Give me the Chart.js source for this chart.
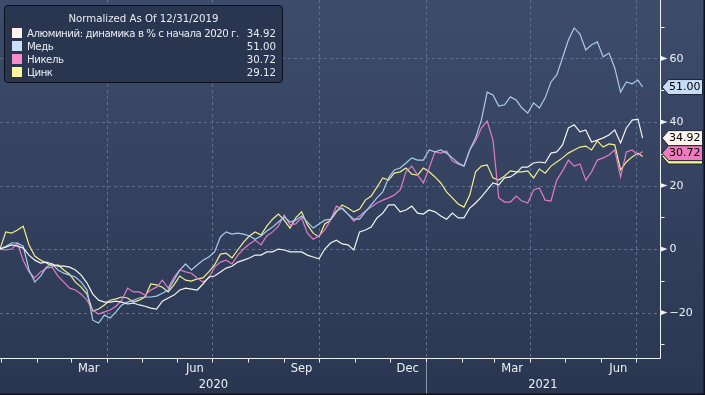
<!DOCTYPE html>
<html>
<head>
<meta charset="utf-8">
<script src="https://cdn.jsdelivr.net/npm/chart.js@4.4.0/dist/chart.umd.min.js"></script>
<style>
html,body{margin:0;padding:0;background:#2c3954;}
#wrap{position:relative;width:705px;height:395px;overflow:hidden;}
#c{position:absolute;left:0;top:0;}
#legend{position:absolute;left:4px;top:5px;width:277px;height:76px;border:1px solid #0c1019;border-radius:4px;background:rgba(41,53,79,0.95);color:#e9ecf2;font-family:"DejaVu Sans",sans-serif;font-size:10.2px;}
#legend .title{position:absolute;left:0;right:0;top:6px;text-align:center;line-height:13px;}
#legend .row{position:absolute;left:7px;right:6px;height:13px;line-height:13px;}
#legend .sw{position:absolute;left:0;top:1px;width:10px;height:10px;}
#legend .nm{position:absolute;left:15px;top:0;white-space:nowrap;letter-spacing:-0.45px;}
#legend .vl{position:absolute;right:0;top:0;}
</style>
</head>
<body>
<div id="wrap">
<canvas id="c" width="705" height="395"></canvas>
<div id="legend"></div>
</div>
<script>
// ---- data ----
const legendTitle = 'Normalized As Of 12/31/2019';
const seriesNames = ['Алюминий: динамика в % с начала 2020 г.', 'Медь', 'Никель', 'Цинк'];
const baseDate = '2019-12-31';
// days since 2019-12-31
const dayOffsets = [0,5,10,15,20,25,30,35,40,45,50,55,60,65,70,75,80,85,90,95,100,105,110,115,120,125,130,135,140,145,150,155,160,165,170,175,180,185,190,195,200,205,210,215,220,225,230,235,240,245,250,255,260,265,270,275,280,285,290,295,300,305,310,315,320,325,330,335,340,345,350,355,360,365,370,375,380,385,390,395,400,405,410,415,420,425,430,435,440,445,450,455,460,465,470,475,480,485,490,495,500,505,510,515,520,525,530,535,540,545,550,554];
const aluminum = [0,0.6,1.3,0.9,0.3,-1.9,-3.5,-4.4,-4.1,-4.7,-5.4,-5.4,-5.7,-6.6,-8.2,-10.7,-14.2,-16.1,-16.7,-16.7,-16.4,-16.7,-17.3,-17.0,-17.6,-18.0,-18.6,-18.9,-16.4,-15.4,-14.5,-12.9,-12.3,-12.6,-12.9,-11.0,-8.8,-8.5,-7.2,-6.0,-5.4,-4.1,-3.5,-2.8,-1.9,-1.9,-0.9,-0.9,0.0,-0.3,-0.9,-0.9,-0.9,-1.9,-2.5,-3.1,0.0,1.9,2.8,1.6,1.3,-0.3,5.4,6.0,6.9,9.8,11.3,13.9,13.9,11.7,12.3,13.5,11.3,11.0,12.3,11.7,10.4,9.4,11.3,9.8,9.8,12.9,14.5,16.4,18.6,20.8,20.2,22.4,22.7,23.9,25.8,25.8,27.1,27.4,27.1,30.2,30.6,32.8,38.1,39.1,36.9,37.5,33.7,34.3,35.0,35.9,37.5,33.4,38.1,40.6,40.9,34.92];
const copper = [0,0.9,1.9,1.9,0.9,-6.6,-10.4,-8.5,-5.7,-4.7,-6.6,-7.6,-8.2,-8.8,-10.4,-12.9,-22.4,-23.3,-20.8,-21.7,-19.8,-17.6,-16.7,-16.1,-15.4,-15.1,-15.1,-14.8,-13.9,-12.9,-9.8,-6.6,-4.7,-6.6,-5.0,-3.5,-2.5,-0.9,3.8,5.4,4.7,5.0,4.7,4.1,3.1,4.1,5.7,6.9,8.5,10.1,8.5,9.1,10.4,8.5,6.6,7.9,9.1,9.4,12.0,12.9,11.0,9.4,9.4,11.7,13.9,16.1,18.0,22.4,24.9,25.5,27.1,28.7,28.0,28.0,31.2,30.6,31.2,30.2,28.7,27.1,26.1,31.2,35.0,40.6,49.4,48.5,45.0,45.4,47.9,46.9,44.4,42.8,46.0,44.4,47.6,52.6,54.8,60.2,65.8,69.6,67.7,62.7,64.3,65.2,60.5,61.7,57.0,49.4,52.6,52.0,53.2,51.00];
const nickel = [0,-0.3,0,1.9,-3.5,-7.2,-9.1,-7.2,-6.0,-5.7,-8.5,-10.4,-12.3,-12.9,-14.2,-16.1,-19.2,-20.5,-19.8,-19.2,-18.0,-16.1,-12.3,-13.5,-13.5,-14.5,-12.9,-12.0,-9.8,-12.3,-8.8,-6.6,-7.2,-7.6,-9.1,-10.4,-9.1,-5.7,-4.1,-3.5,-4.7,-1.9,0.0,1.6,2.8,1.3,4.1,5.4,7.2,10.7,7.6,7.9,9.8,5.0,3.1,4.1,6.0,9.1,13.5,12.6,11.0,8.8,10.4,12.0,13.2,14.5,15.4,16.1,17.0,18.6,24.3,26.1,23.3,20.8,25.5,30.6,30.2,30.9,27.7,26.8,26.1,31.2,34.0,38.1,40.3,34.3,16.1,14.8,14.8,16.7,15.1,14.5,18.6,19.2,15.4,15.1,21.7,24.6,28.0,26.1,26.8,21.7,24.3,28.0,28.7,29.6,31.2,22.7,30.6,31.2,29.6,30.72];
const zinc = [0,5.4,5.0,6.0,7.2,1.3,-2.2,-3.5,-4.4,-5.4,-5.0,-6.6,-7.9,-10.4,-12.0,-14.2,-19.5,-18.9,-17.6,-16.1,-15.7,-15.1,-15.4,-16.7,-16.1,-15.1,-11.0,-11.3,-12.0,-13.5,-11.3,-8.5,-9.8,-10.1,-9.4,-9.1,-7.2,-5.0,-1.6,-1.3,-2.8,-0.3,2.2,4.1,5.4,4.4,7.2,9.4,11.0,9.1,6.6,9.8,11.7,7.6,5.0,3.8,7.9,9.1,11.7,13.9,12.9,11.7,12.6,15.4,16.7,19.5,22.4,21.7,23.9,24.3,25.5,23.6,23.3,25.5,24.3,22.7,20.8,18.0,16.1,14.2,13.2,17.0,24.3,26.1,26.5,22.4,21.7,23.0,24.6,24.3,24.3,24.6,22.4,25.2,23.9,26.1,27.4,28.7,30.2,31.2,32.1,32.4,31.2,34.0,32.1,33.1,32.8,24.9,27.4,29.0,30.2,29.12];
const yMajorTicks = [60,40,20,0,-20];
const yMinorTicks = [70,50,30,10,-10,-30];
const monthStarts = ['2020-01-01','2020-02-01','2020-03-01','2020-04-01','2020-05-01','2020-06-01','2020-07-01','2020-08-01','2020-09-01','2020-10-01','2020-11-01','2020-12-01','2021-01-01','2021-02-01','2021-03-01','2021-04-01','2021-05-01','2021-06-01','2021-07-01'];
const gridMonths = ['2020-04-01','2020-07-01','2020-10-01','2021-01-01','2021-04-01','2021-07-01'];
const monthLabels = ['Mar','Jun','Sep','Dec','Mar','Jun'];
const monthLabelFrom = ['2020-03-01','2020-06-01','2020-09-01','2020-12-01','2021-03-01','2021-06-01'];
const monthLabelTo   = ['2020-04-01','2020-07-01','2020-10-01','2021-01-01','2021-04-01','2021-07-01'];
const yearLabels = ['2020','2021'];
const yearStarts = ['2020-01-01','2021-01-01'];

// ---- styles ----
const lineColors = ['#f3f3f3','#a9cbee','#e27cc6','#f2ef8c'];
const swatchColors = ['#fff2ef','#c9e0fa','#f78cca','#fbf59c'];
const tagColors = ['#fdf4ec','#c8ddf5','#f07cc0','#f6f08e'];
const FONT = '"DejaVu Sans", sans-serif';

function dayOf(s){const p=s.split('-').map(Number);const b=baseDate.split('-').map(Number);return (Date.UTC(p[0],p[1]-1,p[2])-Date.UTC(b[0],b[1]-1,b[2]))/86400000;}

const allSeries=[aluminum,copper,nickel,zinc];
const datasets = allSeries.map((arr,i)=>({
  label: seriesNames[i],
  data: dayOffsets.map((d,k)=>({x:d,y:arr[k]})),
  borderColor: lineColors[i],
  borderWidth: 1.2,
  pointRadius: 0,
  tension: 0,
  fill: false,
  order: [1,2,3,4][i]
}));

// legend (HTML text)
const lg=document.getElementById('legend');
let html='<div class="title">'+legendTitle+'</div>';
allSeries.forEach((arr,i)=>{
  html+='<div class="row" style="top:'+(21+i*13)+'px"><div class="sw" style="background:'+swatchColors[i]+'"></div><div class="nm">'+seriesNames[i]+'</div><div class="vl">'+arr[arr.length-1].toFixed(2)+'</div></div>';
});
lg.innerHTML=html;

const axesPlugin={
  id:'axesPlugin',
  beforeDraw(chart){
    const {ctx,width,height,chartArea:a}=chart;
    const xs=chart.scales.x, ys=chart.scales.y;
    ctx.save();
    const g=ctx.createLinearGradient(0,0,0,height);
    g.addColorStop(0,'#3e4c6c'); g.addColorStop(0.9,'#2c3954'); g.addColorStop(1,'#2a3650');
    ctx.fillStyle=g; ctx.fillRect(0,0,width,height);
    ctx.strokeStyle='#5d7090'; ctx.lineWidth=1; ctx.setLineDash([3,3]);
    yMajorTicks.forEach(v=>{const y=Math.round(ys.getPixelForValue(v))+0.5;ctx.beginPath();ctx.moveTo(a.left,y);ctx.lineTo(a.right,y);ctx.stroke();});
    gridMonths.forEach(s=>{const x=Math.round(xs.getPixelForValue(dayOf(s)))+0.5;ctx.beginPath();ctx.moveTo(x,a.top);ctx.lineTo(x,a.bottom);ctx.stroke();});
    ctx.restore();
  },
  afterDraw(chart){
    const {ctx,width,height,chartArea:a}=chart;
    const xs=chart.scales.x, ys=chart.scales.y;
    ctx.save();
    ctx.strokeStyle='#eef0f4'; ctx.fillStyle='#eef0f4'; ctx.lineWidth=1;
    const ax=Math.round(a.right)+0.5, ay=Math.round(a.bottom)+0.5;
    ctx.beginPath();ctx.moveTo(ax,a.top);ctx.lineTo(ax,ay);ctx.lineTo(a.left,ay);ctx.stroke();
    yMinorTicks.forEach(v=>{const y=Math.round(ys.getPixelForValue(v))+0.5;ctx.beginPath();ctx.moveTo(ax,y);ctx.lineTo(ax+4,y);ctx.stroke();});
    ctx.font='11px '+FONT; ctx.textBaseline='middle'; ctx.textAlign='left';
    yMajorTicks.forEach(v=>{const y=ys.getPixelForValue(v);
      ctx.beginPath();ctx.moveTo(ax,y-2.6);ctx.lineTo(ax+7,y);ctx.lineTo(ax,y+2.6);ctx.closePath();ctx.fill();
      ctx.fillText(v<0?'\u2212'+Math.abs(v):String(v),ax+9,y+0.5);});
    monthStarts.forEach(s=>{const x=Math.round(xs.getPixelForValue(dayOf(s)))+0.5; if(x>a.right) return; ctx.beginPath();ctx.moveTo(x,ay);ctx.lineTo(x,ay+4);ctx.stroke();});
    ctx.font='11.5px '+FONT; ctx.textAlign='center';
    monthLabels.forEach((t,i)=>{const x=(xs.getPixelForValue(dayOf(monthLabelFrom[i]))+xs.getPixelForValue(dayOf(monthLabelTo[i])))/2; ctx.fillText(t,x,369);});
    yearLabels.forEach((t,i)=>{let x0=Math.max(a.left,xs.getPixelForValue(dayOf(yearStarts[i])));let x1=i+1<yearStarts.length?xs.getPixelForValue(dayOf(yearStarts[i+1])):a.right;ctx.fillText(t,(x0+x1)/2,385);});
    ctx.strokeStyle='#8c95a8';
    for(let i=1;i<yearStarts.length;i++){const x=Math.round(xs.getPixelForValue(dayOf(yearStarts[i])))+0.5;ctx.beginPath();ctx.moveTo(x,ay+4);ctx.lineTo(x,height);ctx.stroke();}
    const last=allSeries.map(s=>s[s.length-1]);
    const py=last.map(v=>ys.getPixelForValue(v));
    const pos=[py[0],py[1],Math.max(py[2],py[0]+15),py[3]];
    ctx.font='11px '+FONT; ctx.textAlign='right'; ctx.textBaseline='middle';
    [3,2,0,1].forEach(i=>{
      const y=pos[i], h=7.5, xl=ax+1.5, xb=ax+8, xr=width-2.5;
      ctx.beginPath();ctx.moveTo(xl,y);ctx.lineTo(xb,y-h);ctx.lineTo(xr,y-h);ctx.lineTo(xr,y+h);ctx.lineTo(xb,y+h);ctx.closePath();
      ctx.fillStyle=tagColors[i];ctx.fill();ctx.strokeStyle='#1b2338';ctx.lineWidth=1;ctx.stroke();
      ctx.fillStyle='#000';ctx.fillText(last[i].toFixed(2),xr-2,y+0.5);
    });
    ctx.fillStyle='#0e121b'; ctx.fillRect(width-1.5,0,1.5,height); ctx.fillRect(0,height-1.5,width,1.5);
    ctx.restore();
  }
};

new Chart(document.getElementById('c'),{
  type:'line',
  data:{datasets},
  options:{
    responsive:false, animation:false, devicePixelRatio:1,
    layout:{padding:{left:0,top:0,right:45,bottom:37}},
    plugins:{legend:{display:false},tooltip:{enabled:false}},
    scales:{
      x:{type:'linear',min:0,max:569,display:false},
      y:{type:'linear',min:-34.3,max:78.4,display:false}
    }
  },
  plugins:[axesPlugin]
});
</script>
</body>
</html>
